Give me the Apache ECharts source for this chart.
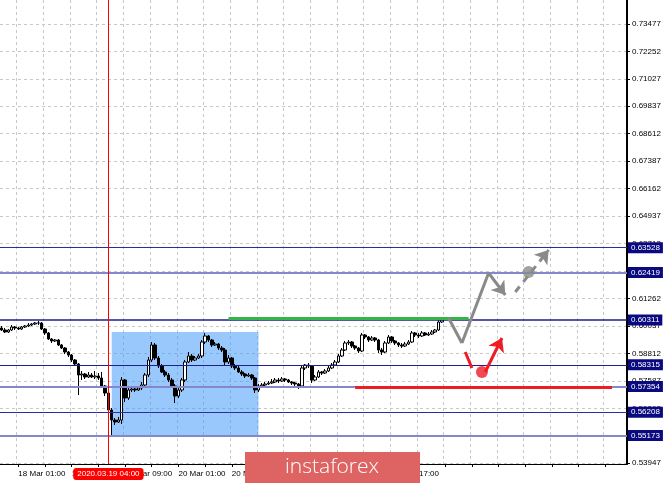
<!DOCTYPE html>
<html>
<head>
<meta charset="utf-8">
<script src="https://cdn.jsdelivr.net/npm/echarts@6.0.0/dist/echarts.min.js"></script>
<style>html,body{margin:0;padding:0;background:#fff;}#c{width:665px;height:483px;}</style>
</head>
<body>
<div id="c"></div>
<script>
// ---- data ----
const barCount = 188;
const lastBar = 132;
const xTickLabels = ['18 Mar 01:00','18 Mar 17:00','19 Mar 09:00','20 Mar 01:00','20 Mar 17:00','23 Mar 09:00','24 Mar 01:00','24 Mar 17:00','25 Mar 09:00'];
const yTicks = [0.73477,0.72252,0.71027,0.69837,0.68612,0.67387,0.66162,0.64937,0.63712,0.62487,0.61262,0.60037,0.58812,0.57587,0.56362,0.55137,0.53947];
const crosshairIndex = 32;
const crosshairLabel = '2020.03.19 04:00';

const opens = [.59953,.59864,.59775,.59864,.59997,.59953,.59909,.59997,.60042,.60086,
.60131,.60175,.60175,.59909,.59731,.59464,.59375,.59419,.59197,.59063,
.58885,.58752,.58529,.58352,.57862,.57907,.57773,.57862,.57773,.57818,
.57729,.57373,.57061,.56305,.55860,.55771,.55860,.57640,.56839,.57195,
.57239,.57195,.57284,.57417,.57862,.58529,.59197,.58618,.58263,.57996,
.57862,.57640,.57373,.56928,.57195,.57640,.58441,.58707,.58529,.58618,
.58707,.59330,.59597,.59419,.59197,.59241,.59063,.58974,.58441,.58618,
.58263,.58174,.57996,.57907,.57818,.57862,.57729,.57195,.57373,.57417,
.57462,.57506,.57551,.57640,.57595,.57684,.57640,.57551,.57506,.57462,
.57373,.58174,.58307,.58263,.57640,.57773,.57996,.57951,.58040,.58174,
.58307,.58441,.58707,.58974,.59286,.59330,.59152,.59063,.58930,.59642,
.59553,.59419,.59508,.59419,.58974,.58885,.59286,.59553,.59375,.59286,
.59197,.59152,.59241,.59330,.59731,.59642,.59597,.59731,.59642,.59686,
.59775,.59864,.60220];
const closes = [.59864,.59775,.59864,.59997,.59953,.59909,.59997,.60042,.60086,.60131,
.60175,.60175,.59909,.59731,.59464,.59375,.59419,.59197,.59063,.58885,
.58752,.58529,.58352,.57862,.57907,.57773,.57862,.57773,.57818,.57729,
.57373,.57061,.56305,.55860,.55771,.55860,.57640,.56839,.57195,.57239,
.57195,.57284,.57417,.57862,.58529,.59197,.58618,.58263,.57996,.57862,
.57640,.57373,.56928,.57195,.57640,.58441,.58707,.58529,.58618,.58707,
.59330,.59597,.59419,.59197,.59241,.59063,.58974,.58441,.58618,.58263,
.58174,.57996,.57907,.57818,.57862,.57729,.57195,.57373,.57417,.57462,
.57506,.57551,.57640,.57595,.57684,.57640,.57551,.57506,.57462,.57373,
.58174,.58307,.58263,.57640,.57773,.57996,.57951,.58040,.58174,.58307,
.58441,.58707,.58974,.59286,.59330,.59152,.59063,.58930,.59642,.59553,
.59419,.59508,.59419,.58974,.58885,.59286,.59553,.59375,.59286,.59197,
.59152,.59241,.59330,.59731,.59642,.59597,.59731,.59642,.59686,.59775,
.59864,.60220,.60309];
const lows = [.59820,.59731,.59731,.59820,.59864,.59864,.59864,.59953,.59997,.60042,
.60086,.60086,.59864,.59642,.59419,.59286,.59330,.59152,.59019,.58796,
.58663,.58441,.58263,.56972,.57640,.57684,.57729,.57729,.57684,.57640,
.57284,.56928,.56216,.55148,.55638,.55727,.55682,.56661,.56750,.57106,
.57106,.57150,.57195,.57328,.57773,.58441,.58529,.58174,.57951,.57773,
.57551,.57284,.56616,.56839,.57106,.57551,.58396,.58441,.58485,.58574,
.58618,.59241,.59330,.59108,.59152,.58974,.58885,.58307,.58352,.58174,
.58085,.57951,.57818,.57729,.57773,.57640,.57061,.57106,.57284,.57373,
.57417,.57462,.57506,.57506,.57551,.57551,.57506,.57417,.57373,.57239,
.57284,.58085,.58174,.57506,.57595,.57729,.57862,.57907,.57996,.58129,
.58263,.58396,.58663,.58930,.59197,.59063,.58974,.58841,.58885,.59464,
.59330,.59375,.59330,.58841,.58752,.58841,.59241,.59286,.59197,.59108,
.59063,.59108,.59197,.59286,.59553,.59508,.59553,.59597,.59597,.59642,
.59731,.59820,.60175];
const highs = [.60042,.59953,.59909,.60086,.60042,.59997,.60042,.60086,.60175,.60175,
.60220,.60264,.60220,.59953,.59775,.59508,.59464,.59464,.59241,.59108,
.58930,.58796,.58574,.58396,.58040,.57951,.57996,.57951,.58040,.57951,
.57996,.57417,.57106,.56394,.55949,.55994,.57773,.57684,.57284,.57373,
.57328,.57373,.57551,.57951,.58663,.59330,.59286,.58707,.58352,.58085,
.57951,.57729,.57462,.57284,.57729,.58529,.58885,.58796,.58707,.58796,
.59419,.59731,.59642,.59464,.59330,.59286,.59152,.59063,.58752,.58663,
.58352,.58263,.58085,.57951,.57951,.57907,.57773,.57462,.57506,.57551,
.57595,.57684,.57729,.57729,.57773,.57729,.57684,.57595,.57551,.57506,
.58307,.58352,.58396,.58307,.57862,.58085,.58040,.58129,.58263,.58396,
.58529,.58796,.59063,.59375,.59419,.59375,.59197,.59108,.59731,.59686,
.59597,.59597,.59553,.59464,.59063,.59375,.59642,.59597,.59419,.59330,
.59286,.59330,.59419,.59820,.59775,.59731,.59820,.59775,.59775,.59864,
.59909,.60309,.60398];

const levelPrices = [0.63528,0.62419,0.60311,0.58315,0.57354,0.56208,0.55173];
const levelColors = ['#2c2c9c','#8686cc','#1e1e8c','#1e1e8c','#8686cc','#2c2c9c','#8686cc'];
const levelWidths = [1, 2, 1.5, 1, 2, 1, 2];

const boxRange = {x: [33, 77], y: [0.59775, 0.55193]};
const greenLine = {x: [68, 140], y: 0.60398};
const redLine = {x: [106, 183], y: 0.57328};

const grayPath = [[134,0.60398],[138,0.59286],[146,0.62400],[151,0.61421]];
const grayDashed = [[154,0.61555],[164,0.63423]];
const grayDot = [[158,0.62445]];
const redDash = [[139,0.58885],[141,0.58174]];
const redArrow = [[145,0.57996],[150,0.59508]];
const redDot = [[144,0.57996]];

// ---- build ----
const cats = Array.from({length: barCount}, (_, i) => String(i));
const candles = opens.map((o, i) => [o, closes[i], lows[i], highs[i]]);

const GRAY = '#8a8a8a', RED = '#ee1c25';
const mlData = [];
levelPrices.forEach((p, i) => {
  mlData.push({
    yAxis: p,
    lineStyle: {color: levelColors[i], width: levelWidths[i], type: 'solid'},
    label: {show: true, position: 'end', distance: 1, formatter: v => Number(v.value).toFixed(5),
      backgroundColor: '#0a0a80', color: '#fff', fontSize: 8, fontFamily: 'Liberation Sans',
      padding: [2, 3, 1, 3]}
  });
});
function seg(a, b, color, width, arrow, dashed) {
  return [
    {coord: a, symbol: 'none', lineStyle: {color: color, width: width, type: dashed ? [7, 6] : 'solid'}, label: {show: false}},
    {coord: b, symbol: arrow ? 'arrow' : 'none', symbolSize: arrow ? 13 : 0}
  ];
}
mlData.push(seg([greenLine.x[0], greenLine.y], [greenLine.x[1], greenLine.y], '#34b44a', 3, false));
mlData.push(seg([redLine.x[0], redLine.y], [redLine.x[1], redLine.y], RED, 3, false));
for (let i = 0; i < grayPath.length - 1; i++) {
  mlData.push(seg(grayPath[i], grayPath[i + 1], GRAY, 3, i === grayPath.length - 2));
}
mlData.push(seg(grayDashed[0], grayDashed[1], GRAY, 3, true, true));
mlData.push(seg(redDash[0], redDash[1], RED, 3, false));
mlData.push(seg(redArrow[0], redArrow[1], RED, 3, true));

const axisFont = {color: '#000', fontSize: 8, fontFamily: 'Liberation Sans'};

const option = {
  animation: false,
  backgroundColor: '#fff',
  grid: {left: 0, right: 38, top: 0, bottom: 19},
  xAxis: {
    type: 'category', data: cats, boundaryGap: true,
    axisLine: {show: true, lineStyle: {color: '#000'}},
    axisTick: {show: true, interval: i => (i - 5) % 8 === 0, alignWithLabel: true, length: 3, lineStyle: {color: '#000'}},
    axisLabel: Object.assign({interval: i => i >= 5 && i <= lastBar && (i - 5) % 16 === 0,
      formatter: (v, i) => xTickLabels[(Number(v) - 5) / 16] || '', align: 'left', margin: 6}, axisFont),
    splitLine: {show: true, interval: i => (i - 5) % 8 === 0, lineStyle: {color: '#c8c8c8', type: [3, 3]}},
    axisPointer: {
      show: true, type: 'line', value: crosshairIndex, status: 'show', snap: false, triggerTooltip: false,
      lineStyle: {color: '#ff0000', width: 1, type: 'solid'},
      label: {show: true, formatter: () => crosshairLabel, backgroundColor: '#ff0000', color: '#fff',
        fontSize: 8, fontFamily: 'Liberation Sans', padding: [2, 4], margin: 4}
    }
  },
  yAxis: {
    type: 'value', position: 'right', min: 0.53903, max: 0.74545,
    axisLine: {show: true, lineStyle: {color: '#000', width: 2}},
    axisTick: {show: true, customValues: yTicks, length: 3, lineStyle: {color: '#000'}},
    axisLabel: Object.assign({customValues: yTicks, formatter: v => Number(v).toFixed(5), margin: 5, align: 'left'}, axisFont),
    splitLine: {show: true, lineStyle: {color: '#c8c8c8', type: [3, 3]}}
  },
  series: [
    {
      type: 'candlestick', data: candles, barWidth: 3,
      itemStyle: {color: '#ffffff', color0: '#000000', borderColor: '#000000', borderColor0: '#000000', borderWidth: 1},
      markArea: {silent: true, precision: 5, itemStyle: {color: 'rgba(70,155,250,0.55)'},
        data: [[{coord: [boxRange.x[0], boxRange.y[0]]}, {coord: [boxRange.x[1], boxRange.y[1]]}]]}
    },
    {
      type: 'scatter', data: grayDot, symbolSize: 12, itemStyle: {color: GRAY}, clip: false, z: 6,
      markLine: {silent: true, precision: 5, symbol: ['none', 'none'], label: {show: false}, data: mlData, animation: false}
    },
    {type: 'scatter', data: redDot, symbolSize: 12, itemStyle: {color: RED}, clip: false, z: 6}
  ],
  graphic: [
    {type: 'rect', left: 245, top: 452, shape: {width: 175, height: 31}, style: {fill: '#de6464'}, z: 100},
    {type: 'text', x: 332, y: 467, z: 101,
      style: {text: 'instaforex', fill: '#fff', font: '300 21px "Open Sans"', align: 'center', verticalAlign: 'middle'}}
  ]
};
const chart = echarts.init(document.getElementById('c'), null, {renderer: 'canvas'});
chart.setOption(option);
</script>
</body>
</html>
